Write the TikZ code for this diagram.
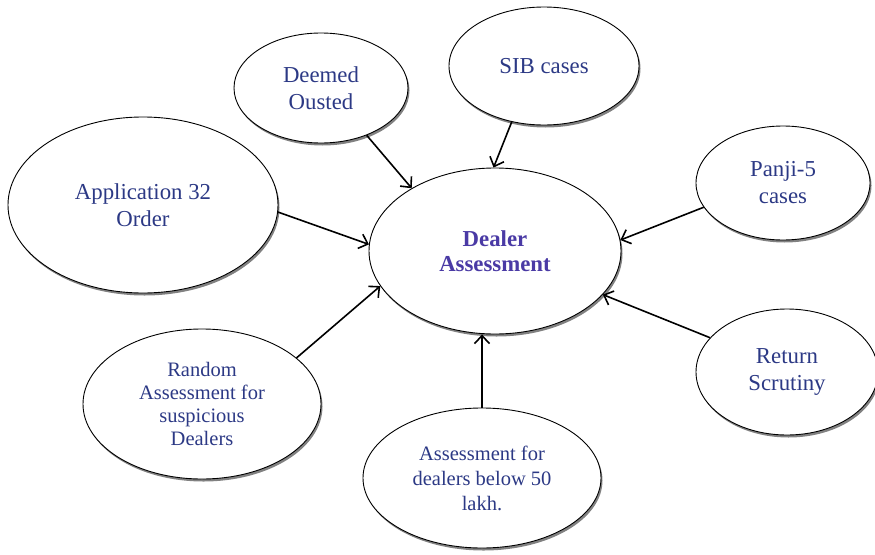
\documentclass[tikz,border=0pt]{standalone}
\usepackage{fontspec}
\setmainfont{Liberation Serif}
\usetikzlibrary{shapes.geometric,arrows.meta,shadows}
\definecolor{navytext}{HTML}{2C3985}
\definecolor{dealertext}{HTML}{4A3AA5}
\tikzset{
  bubble/.style={ellipse, draw=black, line width=0.9pt, fill=white, inner sep=0pt,
    align=center, text=navytext, font=\fontsize{22.8}{27}\selectfont,
    drop shadow={shadow xshift=1.5pt, shadow yshift=-2.5pt, fill=black!55, opacity=0.9}},
  smalltext/.style={font=\fontsize{20.5}{24}\selectfont},
  feed/.style={line width=1.6pt, -{Straight Barb[length=8pt,width=15pt,line width=1.6pt]}}
}
\begin{document}
\begin{tikzpicture}[x=1pt,y=-1pt]
\useasboundingbox (0,0) rectangle (875,554);
\node[bubble, minimum width=252pt, minimum height=166pt, text=dealertext, font=\fontsize{22.8}{25}\selectfont\bfseries] (dealer) at (495,251) {Dealer\\Assessment};
\node[bubble, minimum width=174pt, minimum height=110pt] (deemed) at (321,88) {Deemed\\Ousted};
\node[bubble, minimum width=190pt, minimum height=118pt] (sib) at (544,66) {SIB cases};
\node[bubble, minimum width=270pt, minimum height=176pt] (app) at (143,205) {Application 32\\Order};
\node[bubble, minimum width=174pt, minimum height=114pt] (panji) at (783,183) {Panji-5\\cases};
\node[bubble, smalltext, font=\fontsize{20.5}{23}\selectfont, minimum width=238pt, minimum height=150pt] (random) at (202,404) {Random\\Assessment for\\suspicious\\Dealers};
\node[bubble, minimum width=182pt, minimum height=126pt] (ret) at (787,372) {Return\\Scrutiny};
\node[bubble, smalltext, font=\fontsize{20.5}{25}\selectfont, minimum width=238pt, minimum height=140pt] (below) at (482,478) {Assessment for\\dealers below 50\\lakh.};
\draw[feed] (deemed.-46.9) -- (dealer.143.5);
\draw[feed] (sib.-120.5) -- (dealer.91.3);
\draw[feed] (app.-3.8) -- (dealer.177.4);
\draw[feed] (panji.-163) -- (dealer.5.2);
\draw[feed] (random.26.8) -- (dealer.-163.7);
\draw[feed] (below.north) -- (below.north |- dealer.south);
\draw[feed] (ret.156.2) -- (dealer.-22.2);
\end{tikzpicture}
\end{document}
